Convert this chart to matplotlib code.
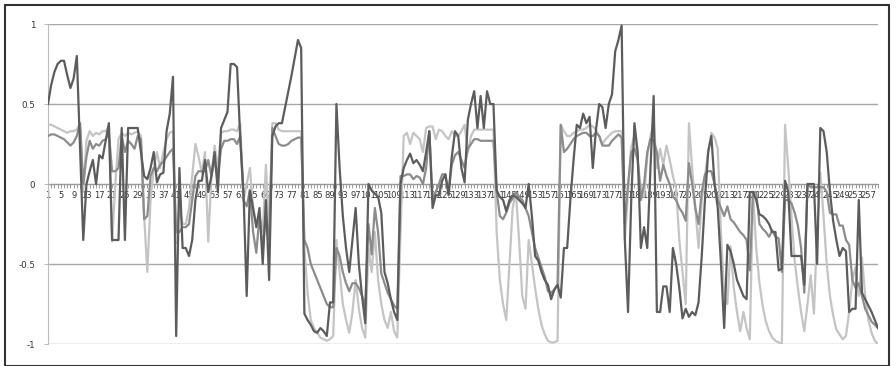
import matplotlib
matplotlib.use("Agg")
import matplotlib.pyplot as plt
from matplotlib.patches import Rectangle

# three series, one value per category (1..260)
dark = [
    0.50, 0.62, 0.70, 0.75, 0.77, 0.77, 0.68, 0.60, 0.66, 0.80,
    0.22, -0.35, 0.00, 0.08, 0.15, 0.00, 0.18, 0.16, 0.27, 0.38,
    -0.35, -0.35, -0.35, 0.35, -0.35, 0.35, 0.35, 0.35, 0.35, 0.20,
    0.05, 0.03, 0.10, 0.20, 0.01, 0.06, 0.07, 0.33, 0.44, 0.67,
    -0.95, 0.10, -0.40, -0.40, -0.45, -0.35, -0.10, 0.02, 0.02, 0.15,
    -0.05, 0.05, 0.20, -0.05, 0.35, 0.40, 0.45, 0.75, 0.75, 0.73,
    0.28, -0.05, -0.70, -0.04, -0.15, -0.27, -0.15, -0.50, -0.10, -0.60,
    0.30, 0.36, 0.38, 0.38, 0.48, 0.58, 0.68, 0.79, 0.90, 0.85,
    -0.81, -0.85, -0.88, -0.92, -0.93, -0.90, -0.92, -0.95, -0.74, -0.74,
    0.50, 0.10, -0.20, -0.40, -0.55, -0.35, -0.15, -0.50, -0.70, -0.87,
    0.00, -0.04, -0.06, -0.08, -0.18, -0.55, -0.62, -0.72, -0.80, -0.85,
    0.00, 0.10, 0.15, 0.19, 0.13, 0.15, 0.12, 0.08, 0.20, 0.33,
    -0.15, -0.07, -0.07, 0.02, 0.06, -0.07, 0.17, 0.33, 0.30, 0.10,
    0.01, 0.40, 0.50, 0.58, 0.35, 0.55, 0.35, 0.58, 0.50, 0.50,
    -0.04, -0.08, -0.10, -0.17, -0.10, -0.07, -0.08, -0.10, -0.12, -0.15,
    0.00, -0.20, -0.45, -0.48, -0.55, -0.60, -0.63, -0.72, -0.66, -0.63,
    -0.71, -0.40, -0.40, -0.10, 0.15, 0.37, 0.35, 0.44, 0.38, 0.42,
    0.10, 0.34, 0.50, 0.48, 0.35, 0.50, 0.56, 0.83, 0.90, 0.99,
    -0.35, -0.80, -0.10, 0.38, 0.20, -0.40, -0.27, -0.40, 0.10, 0.55,
    -0.80, -0.80, -0.64, -0.64, -0.80, -0.40, -0.50, -0.65, -0.84, -0.78,
    -0.83, -0.80, -0.82, -0.74, -0.45, -0.10, 0.20, 0.30, 0.00, -0.15,
    -0.50, -0.90, -0.38, -0.42, -0.50, -0.60, -0.65, -0.70, -0.72, -0.05,
    -0.05, -0.10, -0.19, -0.20, -0.22, -0.25, -0.30, -0.30, -0.54, -0.53,
    0.02, -0.05, -0.45, -0.45, -0.45, -0.45, -0.63, 0.00, 0.00, 0.00,
    -0.50, 0.35, 0.33, 0.20, -0.05, -0.23, -0.35, -0.45, -0.40, -0.42,
    -0.80, -0.78, -0.78, -0.10, -0.68, -0.72, -0.76, -0.80, -0.85, -0.90,
]

medium = [
    0.30, 0.31, 0.31, 0.30, 0.29, 0.28, 0.26, 0.24, 0.26, 0.30,
    0.38, 0.00, 0.17, 0.27, 0.22, 0.25, 0.24, 0.27, 0.28, 0.32,
    0.08, 0.08, 0.10, 0.30, 0.20, 0.27, 0.25, 0.22, 0.30, 0.28,
    -0.22, -0.20, 0.05, 0.10, 0.08, 0.12, 0.14, 0.17, 0.20, 0.22,
    -0.30, -0.30, -0.27, -0.27, -0.25, -0.10, 0.05, 0.08, 0.08, 0.08,
    0.15, 0.05, 0.15, 0.05, 0.22, 0.27, 0.27, 0.28, 0.28, 0.25,
    0.30, -0.10, -0.14, -0.04, -0.30, -0.43, -0.20, -0.40, -0.20, -0.35,
    0.35, 0.30, 0.25, 0.24, 0.24, 0.25, 0.27, 0.28, 0.29, 0.29,
    -0.35, -0.40, -0.50, -0.55, -0.60, -0.65, -0.70, -0.75, -0.77, -0.77,
    -0.40, -0.45, -0.55, -0.62, -0.67, -0.62, -0.62, -0.65, -0.70, -0.76,
    -0.25, -0.44, -0.15, -0.30, -0.56, -0.62, -0.68, -0.72, -0.76, -0.78,
    0.05, 0.05, 0.06, 0.06, 0.03, 0.05, 0.04, 0.00, 0.10, 0.33,
    -0.10, -0.05, 0.00, 0.06, 0.06, -0.06, 0.12, 0.18, 0.20, 0.15,
    0.10, 0.22, 0.25, 0.28, 0.28, 0.27, 0.27, 0.27, 0.27, 0.27,
    -0.05, -0.20, -0.22, -0.18, -0.12, -0.09, -0.05, -0.08, -0.10, -0.15,
    -0.20, -0.30, -0.40, -0.46, -0.52, -0.58, -0.67, -0.68, -0.66, -0.63,
    0.37, 0.20, 0.22, 0.25, 0.28, 0.30, 0.31, 0.32, 0.32, 0.30,
    0.30, 0.32, 0.30, 0.24, 0.24, 0.24, 0.27, 0.29, 0.31, 0.29,
    -0.25, 0.00, 0.20, 0.22, 0.15, -0.10, 0.00, 0.20, 0.28, 0.27,
    0.20, 0.02, 0.12, 0.05, 0.00, -0.08, -0.10, -0.15, -0.18, -0.23,
    0.13, 0.00, -0.15, -0.25, -0.05, 0.06, 0.08, 0.08, 0.00, -0.10,
    -0.15, -0.20, -0.14, -0.22, -0.24, -0.27, -0.30, -0.32, -0.35, -0.54,
    -0.05, -0.05, -0.25, -0.28, -0.30, -0.33, -0.29, -0.33, -0.34, -0.55,
    -0.10, -0.10, -0.12, -0.18, -0.26, -0.40, -0.68, 0.00, -0.02, -0.02,
    -0.02, -0.02, -0.02, -0.05, -0.18, -0.19, -0.19, -0.26, -0.26, -0.35,
    -0.38, -0.60, -0.65, -0.62, -0.70, -0.78, -0.82, -0.86, -0.88, -0.90,
]

light = [
    0.37, 0.37, 0.36, 0.35, 0.34, 0.33, 0.32, 0.33, 0.33, 0.34,
    0.38, -0.05, 0.27, 0.33, 0.30, 0.32, 0.31, 0.33, 0.33, 0.36,
    -0.36, 0.00, 0.28, 0.32, 0.30, 0.32, 0.31, 0.32, 0.33, 0.30,
    -0.20, -0.55, -0.10, 0.10, 0.20, 0.10, 0.20, 0.28, 0.32, 0.33,
    -0.37, -0.15, -0.25, -0.25, -0.15, 0.05, 0.25, 0.17, 0.07, 0.20,
    -0.36, 0.05, 0.24, 0.10, 0.32, 0.33, 0.33, 0.34, 0.34, 0.33,
    0.38, -0.10, 0.00, 0.10, -0.15, -0.25, -0.20, -0.30, 0.12, -0.30,
    0.38, 0.38, 0.34, 0.33, 0.33, 0.33, 0.33, 0.33, 0.33, 0.33,
    -0.40, -0.68, -0.85, -0.90, -0.93, -0.96, -0.97, -0.98, -0.97, -0.95,
    -0.35, -0.55, -0.75, -0.85, -0.93, -0.80, -0.60, -0.78, -0.90, -0.96,
    -0.40, -0.55, -0.30, -0.60, -0.75, -0.85, -0.90, -0.80, -0.92, -0.96,
    -0.30, 0.30, 0.32, 0.25, 0.32, 0.30, 0.28, 0.20, 0.35, 0.36,
    0.36, 0.28, 0.34, 0.33, 0.30, 0.28, 0.33, 0.30, 0.30, 0.33,
    0.37, 0.20, 0.30, 0.34, 0.34, 0.34, 0.34, 0.34, 0.34, 0.34,
    -0.30, -0.60, -0.75, -0.85, -0.50, -0.15, -0.05, -0.35, -0.70, -0.78,
    -0.35, -0.50, -0.65, -0.78, -0.88, -0.94, -0.98, -0.99, -0.99, -0.98,
    0.37, 0.33, 0.30, 0.30, 0.32, 0.33, 0.34, 0.34, 0.35, 0.37,
    0.36, 0.34, 0.30, 0.25, 0.28, 0.30, 0.32, 0.33, 0.33, 0.33,
    -0.35, -0.05, 0.23, 0.30, 0.15, -0.03, -0.08, 0.17, 0.30, 0.38,
    0.10, 0.22, 0.12, 0.24, 0.15, 0.05, -0.03, -0.35, -0.55, -0.75,
    0.38, 0.10, -0.15, -0.40, -0.10, 0.05, 0.20, 0.32, 0.29, 0.22,
    -0.30, -0.70, -0.75, -0.39, -0.65, -0.80, -0.92, -0.80, -0.90, -0.97,
    -0.05, -0.40, -0.62, -0.76, -0.86, -0.92, -0.96, -0.98, -0.99, -1.00,
    0.37, 0.10, -0.20, -0.48, -0.65, -0.80, -0.92, -0.75, -0.57, -0.81,
    -0.30, 0.07, -0.20, -0.50, -0.70, -0.82, -0.91, -0.94, -0.97, -0.95,
    -0.80, -0.60, -0.52, -0.70, -0.46, -0.70, -0.85, -0.93, -0.98, -1.00,
]

categories = list(range(1, len(dark) + 1))
y_ticks = [-1, -0.5, 0, 0.5, 1]
y_labels = ["-1", "-0.5", "0", "0.5", "1"]

fig = plt.figure(figsize=(8.96, 3.66), dpi=100)
ax = fig.add_axes([48 / 896, 1 - 344 / 366, 830 / 896, 320 / 366])

ax.plot(categories, light, color="#c4c4c4", lw=1.6, zorder=3)
ax.plot(categories, medium, color="#8c8c8c", lw=1.6, zorder=4)
ax.plot(categories, dark, color="#5c5c5c", lw=1.6, zorder=5)

ax.set_xlim(1, len(dark))
ax.set_ylim(-1, 1)

ax.set_yticks(y_ticks)
ax.set_yticklabels(y_labels)
ax.yaxis.grid(True, color="#a8a8a8", lw=1)
ax.set_axisbelow(True)

ax.set_xticks(categories)
ax.set_xticklabels([str(c) if (c - 1) % 4 == 0 else "" for c in categories],
                   family=["Liberation Sans Narrow", "DejaVu Sans"])

for side in ["top", "right"]:
    ax.spines[side].set_visible(False)
ax.spines["bottom"].set_position(("data", 0))
ax.spines["bottom"].set_color("#999999")
ax.spines["left"].set_color("#bbbbbb")
ax.spines["bottom"].set_zorder(2)

ax.tick_params(axis="x", length=3, width=0.7, color="#999999", pad=2,
               labelsize=6.0, labelcolor="#333333")
ax.tick_params(axis="y", length=3, width=0.7, color="#bbbbbb", pad=6,
               labelsize=6.3, labelcolor="#333333")

# outer frame round the chart
fig.patches.append(Rectangle((5 / 896, 0), 884 / 896, 1 - 5 / 366,
                             transform=fig.transFigure, fill=False,
                             edgecolor="#333333", lw=1.5))

fig.savefig("out.png", dpi=100)
